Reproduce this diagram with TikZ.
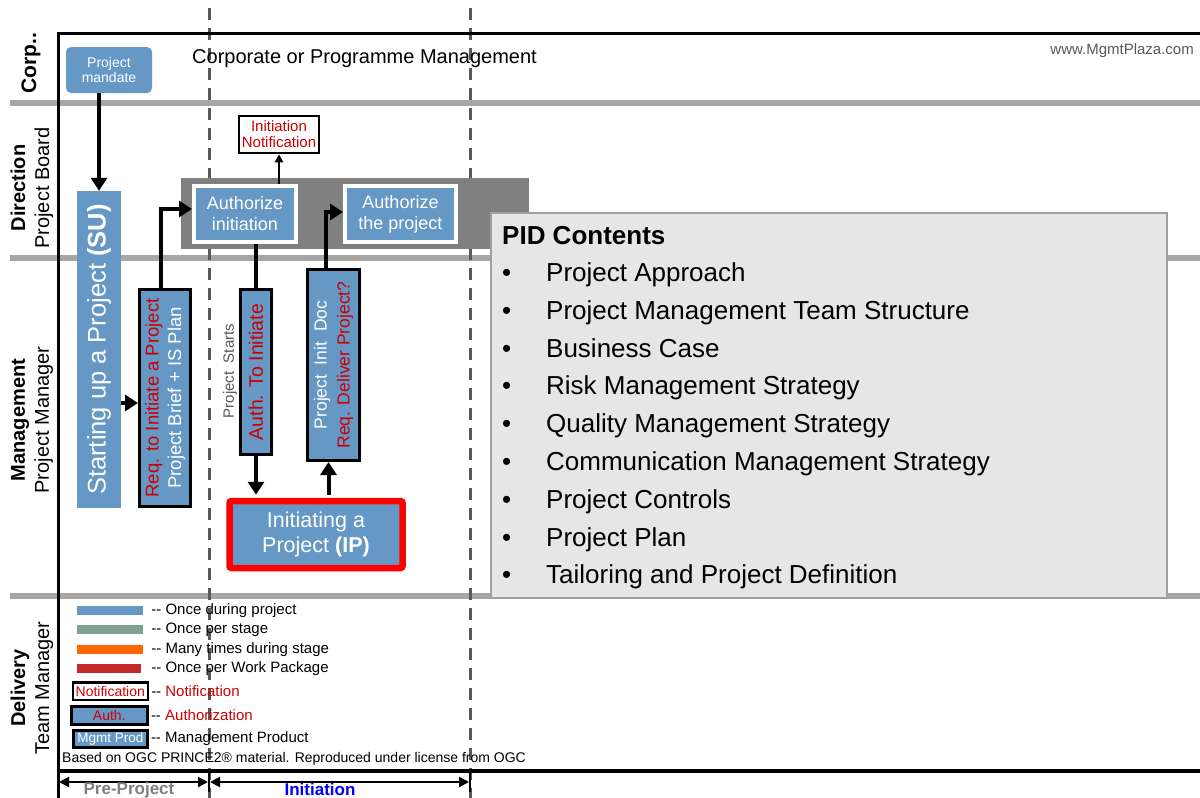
\documentclass[tikz,border=0pt]{standalone}
\usepackage{fontspec}
\setmainfont{Liberation Sans}
\usetikzlibrary{arrows.meta,positioning,calc}
\definecolor{pblue}{RGB}{101,152,196}
\definecolor{pgreen}{RGB}{126,160,140}
\definecolor{porange}{RGB}{255,102,0}
\definecolor{pred}{RGB}{196,40,40}
\definecolor{txtred}{RGB}{204,0,0}
\definecolor{lanegray}{RGB}{166,166,166}
\definecolor{dashgray}{RGB}{89,89,89}
\definecolor{boardgray}{RGB}{128,128,128}
\definecolor{pidfill}{RGB}{230,230,230}
\definecolor{pidborder}{RGB}{160,160,160}
\definecolor{phgray}{RGB}{127,127,127}
\newcommand{\fsz}[2]{\fontsize{#1}{#2}\selectfont}
\tikzset{prod/.style={draw=black, line width=3pt, fill=pblue, text=white, inner sep=0pt, align=center}}
\tikzset{line/.style={draw, line width=4pt, -{Triangle[length=13pt, width=16pt]}}}

\begin{document}
\begin{tikzpicture}[x=1pt, y=-1pt,
                    lane/.style={draw=lanegray, line width=6pt},
                    phase/.style={draw=dashgray, line width=3pt, dash pattern=on 12pt off 8pt},
                    frame/.style={draw=black, line width=3pt},
                    lanelbl/.style={rotate=90, align=center, inner sep=0pt, font=\fsz{20}{24}},
                    authbox/.style={draw=white, line width=4pt, fill=pblue, text=white, inner sep=0pt, align=center, font=\fsz{18}{21}},
                    bar/.style={minimum width=66pt, minimum height=9pt, inner sep=0pt},
                    legtxt/.style={inner sep=0pt, font=\fsz{15}{17}},
                    piditem/.style={anchor=west, inner sep=0pt, text height=18.5pt, text depth=5.5pt, font=\fsz{26}{30}},
                    thinline/.style={draw, line width=2pt, -{Triangle[length=8pt, width=8pt]}},
                    span/.style={draw, line width=2pt, shorten <=1pt, shorten >=1pt,
                                 {Triangle[length=10pt, width=10pt]}-{Triangle[length=10pt, width=10pt]}}]
    \useasboundingbox (0,0) rectangle (1200,798);
    \fill[white] (0,0) rectangle (1200,798);

    % Lanes and phases
    \draw[lane] (10,103) -- (1200,103);
    \draw[lane] (10,258) -- (1200,258);
    \draw[lane] (10,596) -- (1200,596);
    \draw[phase] (209,8) -- (209,798);
    \draw[phase] (470,8) -- (470,798);
    \draw[frame] (1200,33) -- (58,33) -- (58,798);
    \draw[frame, line width=4pt] (58,771) -- (1200,771);

    % Lane labels
    \node [lanelbl, font=\bfseries\fsz{21}{24}]   (corp)  at (31,63)  {Corp..};
    \node [lanelbl]                               (dir)   at (32,188) {\textbf{Direction}\\Project Board};
    \node [lanelbl]                               (mgmt)  at (32,420) {\textbf{Management}\\Project Manager};
    \node [lanelbl]                               (deliv) at (32,688) {\textbf{Delivery}\\Team Manager};

    % Corporate lane
    \node [fill=pblue, rounded corners=5pt, minimum width=86pt, minimum height=46pt, inner sep=0pt,
           text=white, align=center, font=\fsz{14}{15.5}] (mandate) at (109,70) {Project\\mandate};
    \node [anchor=west, inner sep=0pt, font=\fsz{20}{24}] (corptxt) at (192,59) {Corporate or Programme Management};
    \node [anchor=east, inner sep=0pt, text=dashgray, font=\fsz{15}{17}] (site) at (1194,51) {www.MgmtPlaza.com};

    % Direction lane
    \node [fill=boardgray, minimum width=348pt, minimum height=71pt, inner sep=0pt] (board) at (355,213) {};
    \node [authbox, minimum width=102pt, minimum height=56pt] (authinit) at (245,214) {Authorize\\initiation};
    \node [authbox, minimum width=111pt, minimum height=56pt] (authproj) at (400.5,214) {Authorize\\the project};
    \node [draw=black, line width=2.5pt, fill=white, minimum width=80pt, minimum height=37pt, inner sep=0pt,
           text=txtred, align=center, font=\fsz{15}{16}] (notif) at (279,134.5) {Initiation\\Notification};

    % Management lane
    \node [fill=pblue, rotate=90, minimum width=317pt, minimum height=44pt, inner sep=0pt,
           text=white, font=\fsz{25.5}{30}] (su) at (99,349.5) {Starting up a Project \textbf{(SU)}};
    \node [prod, rotate=90, minimum width=217pt, minimum height=51pt, font=\fsz{18.5}{22.5}]
          (req) at (165,398) {\textcolor{txtred}{Req. to Initiate a Project}\\Project Brief + IS Plan};
    \node [prod, rotate=90, minimum width=165pt, minimum height=31pt, font=\fsz{19.5}{22}]
          (auth) at (256,372) {\textcolor{txtred}{Auth. To Initiate}};
    \node [prod, rotate=90, minimum width=191pt, minimum height=52pt, font=\fsz{17.5}{23}]
          (pid) at (333.5,365) {Project~ Init~ Doc\\\textcolor{txtred}{Req. Deliver Project?}};
    \node [rotate=90, inner sep=0pt, text=dashgray, font=\fsz{15}{17}] (starts) at (230,371) {Project~ Starts};
    \node [draw=red, line width=6.5pt, fill=pblue, rounded corners=2pt, minimum width=173pt, minimum height=67pt,
           inner sep=0pt, text=white, align=center, font=\fsz{21.5}{25}] (ip) at (316,534.5) {Initiating a\\Project \textbf{(IP)}};

    % PID contents
    \node [draw=pidborder, line width=1.5pt, fill=pidfill, minimum width=676pt, minimum height=385pt,
           inner sep=0pt, anchor=north west] (pidbox) at (490,212) {};
    \node [piditem, font=\bfseries\fsz{26}{30}] (pidtitle) at (502,238) {PID Contents};
    \node [piditem] (i1) at (502,275) {\makebox[44pt][l]{\textbullet}Project Approach};
    \node [piditem] (i2) at (502,313) {\makebox[44pt][l]{\textbullet}Project Management Team Structure};
    \node [piditem] (i3) at (502,351) {\makebox[44pt][l]{\textbullet}Business Case};
    \node [piditem] (i4) at (502,388) {\makebox[44pt][l]{\textbullet}Risk Management Strategy};
    \node [piditem] (i5) at (502,426) {\makebox[44pt][l]{\textbullet}Quality Management Strategy};
    \node [piditem] (i6) at (502,464) {\makebox[44pt][l]{\textbullet}Communication Management Strategy};
    \node [piditem] (i7) at (502,502) {\makebox[44pt][l]{\textbullet}Project Controls};
    \node [piditem] (i8) at (502,540) {\makebox[44pt][l]{\textbullet}Project Plan};
    \node [piditem] (i9) at (502,577) {\makebox[44pt][l]{\textbullet}Tailoring and Project Definition};

    % Legend
    \node [bar, fill=pblue]                        (barA) at (110,610.5) {};
    \node [bar, fill=pgreen, below=10pt of barA]   (barB) {};
    \node [bar, fill=porange, below=10pt of barB]  (barC) {};
    \node [bar, fill=pred, minimum width=64pt, below=10pt of barC, xshift=-1pt] (barD) {};
    \node [legtxt, right=8pt of barA]  (legA) {-{}- Once during project};
    \node [legtxt, right=8pt of barB]  (legB) {-{}- Once per stage};
    \node [legtxt, right=8pt of barC]  (legC) {-{}- Many times during stage};
    \node [legtxt, right=10pt of barD] (legD) {-{}- Once per Work Package};
    \node [draw=black, line width=2.5pt, fill=white, minimum width=75pt, minimum height=17.5pt, inner sep=0pt,
           text=txtred, font=\fsz{14}{16}] (notifkey) at (110.3,691) {Notification};
    \node [prod, minimum width=76pt, minimum height=18pt, text=txtred, font=\fsz{14}{16}] (authkey) at (109.3,715.5) {Auth.};
    \node [prod, minimum width=74pt, minimum height=17pt, font=\fsz{13.5}{16}] (mgmtkey) at (110.3,739) {Mgmt Prod};
    \node [legtxt, right=2pt of notifkey] (legE) {-{}- \textcolor{txtred}{Notification}};
    \node [legtxt, right=2pt of authkey]  (legF) {-{}- \textcolor{txtred}{Authorization}};
    \node [legtxt, right=2pt of mgmtkey]  (legG) {-{}- Management Product};
    \node [anchor=west, inner sep=0pt, font=\fsz{14}{16}] (source) at (62,759) {Based on OGC PRINCE2\textregistered\ material. Reproduced under license from OGC};

    % Phase axis
    \coordinate (t0) at (58,782);
    \coordinate (t1) at (209,782);
    \coordinate (t2) at (470,782);
    \draw[line width=2pt] (209,771) -- (209,792);
    \draw[line width=2pt] (470,771) -- (470,792);
    \path [span] (t0) -- (t1);
    \path [span] (t1) -- (t2);
    \node [text=phgray, font=\bfseries\fsz{17}{20}] (prelbl) at (129,790) {Pre-Project};
    \node [text=blue, font=\bfseries\fsz{17}{20}]   (inilbl) at (320,789) {Initiation};

    % Paths
    \path [line] (su.east |- mandate.south) -- (su.east);
    \path [line] ($(su.south)+(0,53.5)$) -- ($(su.south -| req.north)+(0,53.5)$);
    \path [line] ($(req.east)+(-4,0)$) |- ($(authinit.west)+(0,-5)$);
    \path [thinline] (authinit.north -| notif.south) -- (notif.south);
    \draw [line width=4pt] (authinit.south -| auth.east) -- (auth.east);
    \path [line, shorten >=3pt] (auth.west) -- (auth.west |- ip.north);
    \path [line] ($(ip.north -| pid.west)+(-5,-3)$) -- ($(pid.west)+(-5,0)$);
    \path [line] ($(pid.east)+(-8,0)$) |- ($(authproj.west)+(0,-2)$);
\end{tikzpicture}
\end{document}
